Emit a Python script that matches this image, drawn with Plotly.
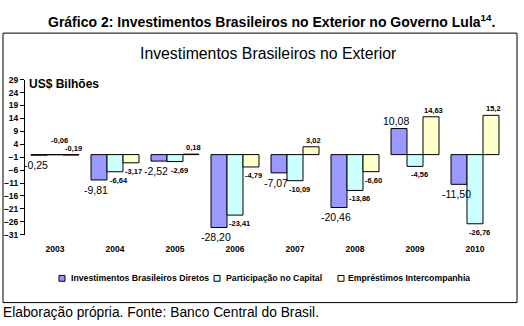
import plotly.graph_objects as go

years = ["2003", "2004", "2005", "2006", "2007", "2008", "2009", "2010"]
ibd = [-0.25, -9.81, -2.52, -28.20, -7.07, -20.46, 10.08, -11.50]
part_capital = [-0.06, -6.64, -2.69, -23.41, -10.09, -13.86, -4.56, -26.76]
emprestimos = [-0.19, -3.17, 0.18, -4.79, 3.02, -6.60, 14.63, 15.2]
series_names = ["Investimentos Brasileiros Diretos", "Participação no Capital",
                "Empréstimos Intercompanhia"]
y_ticks = list(range(-31, 30, 5))

W, H = 524, 326
FONT = "Liberation Sans"
colors = ["#9999FF", "#CCFFFF", "#FFFFCC"]
series = [ibd, part_capital, emprestimos]


def px(x):
    return x / W


def py(y):
    return 1 - y / H


fig = go.Figure()
for name, vals, col in zip(series_names, series, colors):
    fig.add_trace(go.Bar(x=years, y=vals, name=name, marker=dict(color=col, line=dict(color="black", width=1)),
                         showlegend=False, hoverinfo="skip"))

# value labels
bar_px = 16
label_style = [
    dict(size=10.5, weight="normal", dx=-bar_px - 3),
    dict(size=7.5, weight="bold", dx=4),
    dict(size=7.5, weight="bold", dx=bar_px + 2),
]
above_override = {(1, 0): 8, (2, 0): 0}
annotations = []
for s, vals in enumerate(series):
    st = label_style[s]
    for i, v in enumerate(vals):
        txt = f"{v:.2f}".replace(".", ",") if not (s == 2 and i == 7) else "15,2"
        if (s, i) in above_override:
            yanchor, ysh = "bottom", above_override[(s, i)]
        elif v >= 0:
            yanchor, ysh = "bottom", 0
        else:
            yanchor, ysh = "top", -2
        annotations.append(dict(x=i, y=v, xref="x", yref="y", text=txt, showarrow=False,
                                xshift=st["dx"], yshift=ysh, yanchor=yanchor, xanchor="center",
                                font=dict(family=FONT, size=st["size"], color="black", weight=st["weight"])))

# titles and text
annotations += [
    dict(x=px(271), y=py(17), xref="paper", yref="paper", showarrow=False, xanchor="center", yanchor="middle",
         text="Gráfico 2: Investimentos Brasileiros no Exterior no Governo Lula<sup>14</sup>.",
         font=dict(family=FONT, size=14, color="black", weight="bold")),
    dict(x=px(268), y=py(50), xref="paper", yref="paper", showarrow=False, xanchor="center", yanchor="middle",
         text="Investimentos Brasileiros no Exterior",
         font=dict(family=FONT, size=15.8, color="black")),
    dict(x=px(27), y=py(81), xref="paper", yref="paper", showarrow=False, xanchor="left", yanchor="middle",
         text="US$ Bilhões", font=dict(family=FONT, size=12, color="black", weight="bold")),
    dict(x=px(1), y=py(317), xref="paper", yref="paper", showarrow=False, xanchor="left", yanchor="middle",
         text="Elaboração própria. Fonte: Banco Central do Brasil.",
         font=dict(family=FONT, size=13.8, color="black")),
]

shapes = [dict(type="rect", xref="paper", yref="paper", x0=px(3), x1=px(517), y0=py(307), y1=py(29),
               line=dict(color="black", width=1))]

# legend (manual)
legend_pos = [(62, 69), (217, 224), (341, 346)]
ly = 282
for (sx, tx), name, col in zip(legend_pos, series_names, colors):
    shapes.append(dict(type="rect", xref="paper", yref="paper", x0=px(sx - 3), x1=px(sx + 3),
                       y0=py(ly + 3), y1=py(ly - 3), fillcolor=col, line=dict(color="black", width=1)))
    annotations.append(dict(x=px(tx), y=py(ly), xref="paper", yref="paper", showarrow=False,
                            xanchor="left", yanchor="middle", text=name,
                            font=dict(family=FONT, size=8.7, color="black", weight="bold")))

fig.update_layout(
    width=W, height=H, margin=dict(l=0, r=0, t=0, b=0),
    paper_bgcolor="white", plot_bgcolor="white",
    barmode="group", bargap=0.2, bargroupgap=0,
    annotations=annotations, shapes=shapes, showlegend=False,
    xaxis=dict(type="category", range=[-0.5, len(years) - 0.5], domain=[px(25), px(505)],
               showline=False, ticks="", showgrid=False, zeroline=False,
               tickfont=dict(family=FONT, size=8.5, color="black", weight="bold"), ticklabelstandoff=8),
    yaxis=dict(domain=[py(237), py(77)], range=[-31, 29], tickvals=y_ticks, showgrid=False,
               zeroline=False, showline=True, linecolor="black", linewidth=1, ticks="outside",
               ticklen=4, tickcolor="black", tickwidth=1,
               tickfont=dict(family=FONT, size=8.5, color="black", weight="bold")),
)

fig.write_html("out.html", config={"displayModeBar": False, "staticPlot": True},
               post_script="document.body.style.margin='0';document.body.style.overflow='hidden';")
